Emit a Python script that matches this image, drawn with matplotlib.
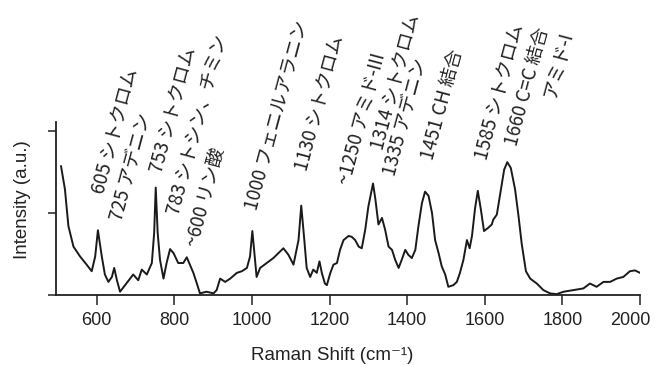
import matplotlib
matplotlib.use("Agg")
import matplotlib.pyplot as plt
from matplotlib.transforms import ScaledTranslation

# ---- data ----
raman_shift = [508, 518, 527, 540, 557, 574, 587, 596, 603, 613, 621, 630, 639, 645, 652, 660,
               673, 686, 694, 707, 716, 729, 742, 748, 752, 757, 763, 772, 780, 789, 798, 810,
               823, 832, 840, 849, 858, 866, 883, 901, 909, 918, 931, 944, 961, 974, 987, 995,
               1001, 1008, 1012, 1021, 1038, 1055, 1068, 1081, 1094, 1107, 1120, 1127, 1134, 1141,
               1150, 1158, 1167, 1174, 1180, 1188, 1193, 1202, 1210, 1219, 1227, 1236, 1249, 1257,
               1266, 1275, 1283, 1292, 1300, 1312, 1318, 1326, 1335, 1343, 1352, 1361, 1369, 1378,
               1386, 1395, 1403, 1412, 1421, 1429, 1438, 1446, 1455, 1464, 1472, 1481, 1489, 1498,
               1506, 1519, 1528, 1536, 1545, 1554, 1561, 1567, 1575, 1582, 1590, 1598, 1609, 1618,
               1622, 1631, 1639, 1650, 1658, 1667, 1678, 1687, 1695, 1706, 1717, 1734, 1751, 1768,
               1785, 1803, 1828, 1854, 1871, 1888, 1906, 1923, 1940, 1957, 1974, 1987, 2000]
intensity = [1.57, 1.29, 0.84, 0.59, 0.47, 0.37, 0.29, 0.47, 0.79, 0.47, 0.25, 0.16, 0.22, 0.33, 0.18, 0.04,
             0.12, 0.20, 0.25, 0.18, 0.31, 0.25, 0.39, 0.76, 1.31, 0.76, 0.43, 0.20, 0.39, 0.56, 0.51, 0.39,
             0.39, 0.46, 0.37, 0.27, 0.14, 0.02, 0.04, 0.02, 0.06, 0.20, 0.16, 0.20, 0.27, 0.29, 0.33, 0.47,
             0.78, 0.43, 0.22, 0.33, 0.39, 0.45, 0.51, 0.57, 0.49, 0.37, 0.67, 1.09, 0.72, 0.33,
             0.22, 0.31, 0.27, 0.41, 0.27, 0.14, 0.12, 0.27, 0.37, 0.39, 0.55, 0.67, 0.72, 0.71,
             0.67, 0.59, 0.57, 0.80, 1.08, 1.36, 1.17, 0.86, 0.94, 0.80, 0.59, 0.55, 0.43, 0.33,
             0.43, 0.55, 0.49, 0.45, 0.55, 0.84, 1.12, 1.26, 1.21, 1.00, 0.67, 0.51, 0.35, 0.25,
             0.10, 0.12, 0.16, 0.27, 0.43, 0.67, 0.57, 0.72, 1.06, 1.27, 1.04, 0.78, 0.82, 0.86,
             0.92, 0.98, 1.21, 1.53, 1.62, 1.55, 1.29, 0.96, 0.63, 0.29, 0.20, 0.14, 0.06, 0.02,
             0.01, 0.04, 0.06, 0.08, 0.14, 0.10, 0.16, 0.16, 0.20, 0.22, 0.29, 0.30, 0.27]

x_ticks = [600, 800, 1000, 1200, 1400, 1600, 1800, 2000]
y_ticks = [0, 1, 2]

peak_labels = ["605 シトクロム", "725 アデニン", "753 シトクロム", "783 シトシン、チミン",
               "~600 リン酸", "1000 フェニルアラニン", "1130 シトクロム", "~1250 アミド-III",
               "1314 シトクロム", "1335 アデニン", "1451 CH 結合", "1585 シトクロム",
               "1660 C=C 結合", "アミド-I"]
label_x = [606, 652, 755, 797, 846, 998, 1129, 1240, 1325, 1356, 1454, 1591, 1670, 1766]
label_y = [1.24, 0.91, 1.50, 0.98, 0.60, 1.04, 1.52, 1.35, 1.78, 1.46, 1.66, 1.66, 1.82, 2.41]

# ---- figure ----
W, H = 655, 365
fig = plt.figure(figsize=(W / 100, H / 100), dpi=100)
ax = fig.add_axes([56 / W, 70 / H, 584 / W, 173 / H])

ax.plot(raman_shift, intensity, color="#1a1a1a", lw=1.4)

ax.set_xlim(495, 2000)
ax.set_ylim(0, 2.11)
ax.set_xticks(x_ticks)
ax.set_yticks(y_ticks)
ax.set_yticklabels([])
for s in ["top", "right"]:
    ax.spines[s].set_visible(False)
for s in ["left", "bottom"]:
    ax.spines[s].set_linewidth(1.3)
    ax.spines[s].set_color("#222222")
ax.tick_params(axis="x", direction="out", length=7.5, width=1.1, pad=5,
               labelsize=13, colors="#222222")
ax.tick_params(axis="y", direction="out", length=5.5, width=1.1, colors="#222222")
xlabels = ax.get_xticklabels()
for lab in xlabels:
    lab.set_family(["Liberation Sans", "DejaVu Sans"])
# keep the last label inside the canvas, as in the reference
xlabels[-1].set_transform(xlabels[-1].get_transform()
                          + ScaledTranslation(-7 / 72, 0, fig.dpi_scale_trans))

fig.text(332 / W, 1 - 355 / H, "Raman Shift (cm⁻¹)", ha="center", va="center",
         fontsize=13.5, family=["Liberation Sans", "DejaVu Sans"], color="#222222")
fig.text(23 / W, 1 - 200 / H, "Intensity (a.u.)", ha="center", va="center", rotation=90,
         fontsize=13.5, family=["Liberation Sans", "DejaVu Sans"], color="#222222")

for txt, lx, ly in zip(peak_labels, label_x, label_y):
    ax.text(lx, ly, txt, rotation=75, rotation_mode="anchor", ha="left", va="center",
            fontsize=13.5, family=["Noto Sans CJK JP", "DejaVu Sans"],
            color="#222222", clip_on=False)

fig.savefig("out.png", dpi=100)
